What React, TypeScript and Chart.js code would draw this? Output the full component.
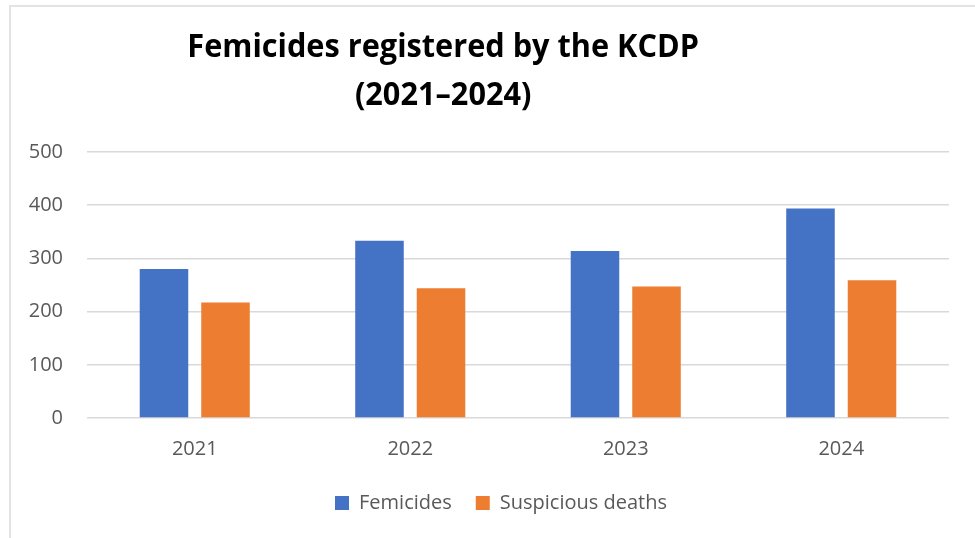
import React, { useEffect, useRef } from "react";
import { Chart, registerables } from "chart.js";

Chart.register(...registerables);

const categories = ["2021", "2022", "2023", "2024"];
const femicides = [280, 333, 314, 394];
const suspiciousDeaths = [217, 244, 247, 259];
const seriesLabels = ["Femicides", "Suspicious deaths"];
const titleLines = ["Femicides registered by the KCDP", "(2021\u20132024)"];
const yTicks = { min: 0, max: 500, step: 100 };

const FONT = "'Open Sans', 'Noto Sans', sans-serif";
const GRAY = "#595959";

const titlePlugin = {
  id: "offsetTitle",
  afterDraw(chart: any) {
    const ctx = chart.ctx;
    ctx.save();
    ctx.fillStyle = "#000000";
    ctx.font = `bold 33px ${FONT}`;
    ctx.textAlign = "center";
    ctx.textBaseline = "alphabetic";
    const cx = chart.width * 0.441;
    titleLines.forEach((line, i) => {
      ctx.save();
      ctx.translate(cx, 50 + i * 48);
      ctx.scale(0.93, 1);
      ctx.fillText(line, 0, 0);
      ctx.restore();
    });
    ctx.restore();
  },
};

export default function App() {
  const ref = useRef<HTMLCanvasElement | null>(null);

  useEffect(() => {
    document.body.style.margin = "0";
    document.body.style.overflow = "hidden";
    const canvas = ref.current;
    if (!canvas) return;
    const chart = new Chart(canvas, {
      type: "bar",
      data: {
        labels: categories,
        datasets: [
          {
            label: seriesLabels[0],
            data: femicides,
            backgroundColor: "#4472C4",
            borderWidth: 0,
            categoryPercentage: 0.571,
            barPercentage: 0.789,
          },
          {
            label: seriesLabels[1],
            data: suspiciousDeaths,
            backgroundColor: "#ED7D31",
            borderWidth: 0,
            categoryPercentage: 0.571,
            barPercentage: 0.789,
          },
        ],
      },
      options: {
        animation: false,
        responsive: false,
        maintainAspectRatio: false,
        layout: { padding: { top: 145, left: 0, right: 0, bottom: 15 } },
        plugins: {
          title: { display: false },
          tooltip: { enabled: false },
          legend: {
            display: true,
            position: "bottom",
            labels: {
              boxWidth: 14,
              boxHeight: 14,
              padding: 24,
              color: GRAY,
              font: { family: FONT, size: 20 },
            },
          },
        },
        scales: {
          x: {
            grid: { display: false, drawTicks: false },
            border: { display: false },
            ticks: {
              color: GRAY,
              padding: 19,
              font: { family: FONT, size: 20 },
            },
            afterFit: (scale: any) => {
              scale.height = 51;
            },
          },
          y: {
            min: yTicks.min,
            max: yTicks.max,
            grid: { color: "#d9d9d9", lineWidth: 1.5, drawTicks: false },
            border: { display: false },
            ticks: {
              stepSize: yTicks.step,
              color: GRAY,
              padding: 24,
              font: { family: FONT, size: 20 },
            },
            afterFit: (scale: any) => {
              scale.width = 76;
            },
          },
          yRightSpace: {
            type: "linear",
            position: "right",
            display: true,
            min: yTicks.min,
            max: yTicks.max,
            grid: { display: false, drawTicks: false },
            border: { display: false },
            ticks: { display: false },
            afterFit: (scale: any) => {
              scale.width = 42;
            },
          },
        },
      },
      plugins: [titlePlugin],
    });
    return () => chart.destroy();
  }, []);

  return (
    <div style={{ position: "relative", width: 975, height: 538, overflow: "hidden", background: "#fff" }}>
      <div
        style={{
          position: "absolute",
          left: 9,
          top: 5,
          width: 1000,
          height: 600,
          border: "2px solid #e3e3e3",
          boxSizing: "border-box",
        }}
      >
        <canvas ref={ref} width={980} height={531} style={{ display: "block" }} />
      </div>
    </div>
  );
}
